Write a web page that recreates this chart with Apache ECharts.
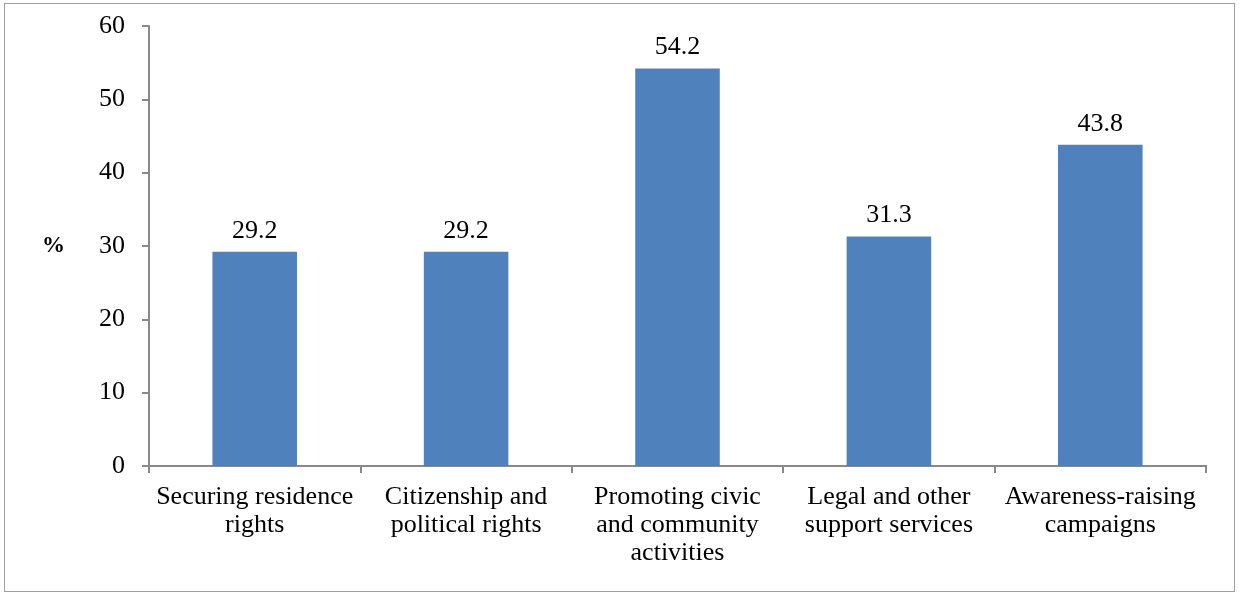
<!DOCTYPE html>
<html>
<head>
<meta charset="utf-8">
<style>
  html, body { margin: 0; padding: 0; background: #fff; }
  #frame { position: absolute; left: 4px; top: 3px; width: 1231px; height: 589px; border: 1px solid #a0a0a0; box-sizing: border-box; }
  #chart { position: absolute; left: 0; top: 0; width: 1239px; height: 595px; }
</style>
<script src="https://cdn.jsdelivr.net/npm/echarts@6/dist/echarts.min.js"></script>
</head>
<body>
<div id="frame"></div>
<div id="chart"></div>
<script>
const categories = [
  'Securing residence\nrights',
  'Citizenship and\npolitical rights',
  'Promoting civic\nand community\nactivities',
  'Legal and other\nsupport services',
  'Awareness-raising\ncampaigns'
];
const values = [29.2, 29.2, 54.2, 31.3, 43.8];
const yTicks = [0, 10, 20, 30, 40, 50, 60];

const serif = '"Liberation Serif", "DejaVu Serif", serif';
const axisGray = '#898989';

const chart = echarts.init(document.getElementById('chart'), null, { renderer: 'canvas' });
chart.setOption({
  animation: false,
  grid: { left: 149, right: 33, top: 26, bottom: 129, containLabel: false },
  xAxis: {
    type: 'category',
    data: categories,
    axisLine: { lineStyle: { color: axisGray, width: 2 } },
    axisTick: { show: true, length: 7, lineStyle: { color: axisGray, width: 2 } },
    axisLabel: {
      color: '#000', fontFamily: serif, fontSize: 26, lineHeight: 28,
      margin: 17, interval: 0
    }
  },
  yAxis: {
    type: 'value',
    min: yTicks[0],
    max: yTicks[yTicks.length - 1],
    interval: 10,
    name: '%',
    nameLocation: 'middle',
    nameRotate: 0,
    nameGap: 84,
    nameTextStyle: { color: '#000', fontFamily: serif, fontSize: 23, fontWeight: 'bold' },
    axisLine: { show: true, lineStyle: { color: axisGray, width: 2 } },
    axisTick: { show: true, length: 7, lineStyle: { color: axisGray, width: 2 } },
    axisLabel: { color: '#000', fontFamily: serif, fontSize: 26, margin: 24 },
    splitLine: { show: false }
  },
  series: [{
    type: 'bar',
    data: values,
    barWidth: '40%',
    itemStyle: { color: '#4F81BD' },
    label: {
      show: true, position: 'top', distance: 8,
      color: '#000', fontFamily: serif, fontSize: 26,
      formatter: p => p.value.toFixed(1)
    }
  }]
});
</script>
</body>
</html>
